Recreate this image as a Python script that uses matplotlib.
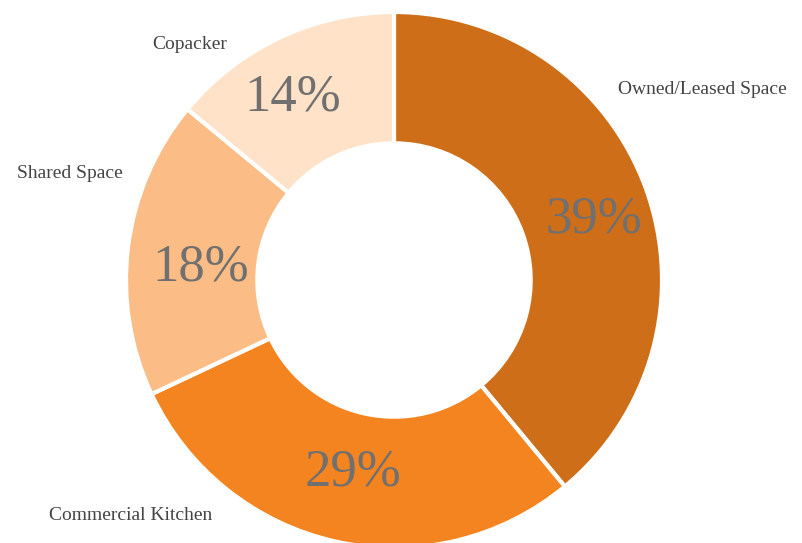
import matplotlib.pyplot as plt

# 데이터
categories = ['Owned/Leased Space', 'Commercial Kitchen', 'Shared Space', 'Copacker']
shares = [39, 29, 18, 14]
colors = ['#CE6E19', '#F4841F', '#FBBC85', '#FFE2C8']

# 바깥 라벨 위치 (픽셀, 위에서부터)
label_pos = {
    'Owned/Leased Space': (618, 87, 'left'),
    'Commercial Kitchen': (131, 513, 'center'),
    'Shared Space': (70, 171, 'center'),
    'Copacker': (190, 42, 'center'),
}
# 퍼센트 라벨 위치 (픽셀)
pct_pos = [(594, 216), (353, 469), (201, 264), (293, 94)]

W, H = 803, 543
fig = plt.figure(figsize=(W / 100, H / 100), dpi=100)
ax = fig.add_axes([0, 0, 1, 1])

cx, cy, R = 394, H - 280, 268
wedges, _, pcts = ax.pie(
    shares, colors=colors, startangle=90, counterclock=False,
    center=(cx, cy), radius=R, frame=True,
    autopct='%d%%', pctdistance=0.75,
    wedgeprops=dict(width=R * 0.49, edgecolor='white', linewidth=3),
)
ax.set_xlim(0, W)
ax.set_ylim(0, H)
ax.set_aspect('equal')
ax.axis('off')

for t, (x, y) in zip(pcts, pct_pos):
    t.set_position((x, H - y - 4))
    t.set_fontfamily('Liberation Serif')
    t.set_fontsize(38)
    t.set_color('#707070')

for name in categories:
    x, y, ha = label_pos[name]
    ax.text(x, H - y - 3, name, ha=ha, va='center', fontsize=14,
            family='Liberation Serif', color='#444444')

fig.savefig('out.png', dpi=100)
